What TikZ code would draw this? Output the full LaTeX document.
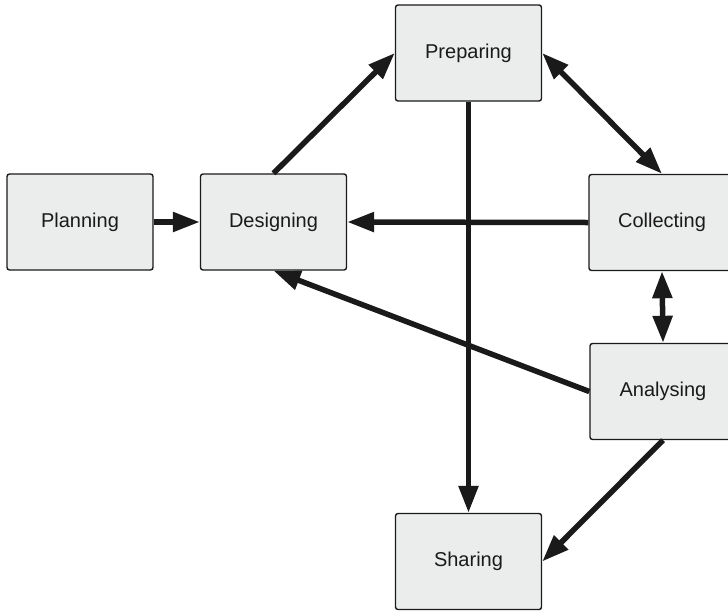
\documentclass[tikz,border=0pt]{standalone}
\usepackage{fontspec}
\setmainfont{Liberation Sans}
\usetikzlibrary{arrows.meta}
\definecolor{boxfill}{HTML}{EBECEC}
\definecolor{ink}{HTML}{1A1A1A}
\begin{document}
\begin{tikzpicture}[x=1pt,y=-1pt,
  stage/.style={draw=ink, line width=1.4pt, fill=boxfill, rounded corners=2.5pt,
    minimum width=146pt, minimum height=96pt, inner sep=0pt,
    font=\fontsize{20}{22}\selectfont, text=ink},
  flow/.style={draw=ink, line width=5.5pt,
    -{Triangle[length=27pt,width=19pt]}},
  flow2/.style={draw=ink, line width=5.5pt,
    {Triangle[length=27pt,width=19pt]}-{Triangle[length=27pt,width=19pt]}}]
\useasboundingbox (0,0) rectangle (728,611);

% process stages
\node[stage] (plan)  at (80,222)    {Planning};
\node[stage] (des)   at (273.5,222) {Designing};
\node[stage] (prep)  at (468.5,53)  {Preparing};
\node[stage] (coll)  at (662,222.5) {Collecting};
\node[stage] (ana)   at (663,391.5) {Analysing};
\node[stage] (share) at (468.5,561.5) {Sharing};

% connections between stages
\draw[flow] (coll.west) -- (des.east);
\draw[flow] (prep.south) -- (share.north);
\draw[flow] (ana.west) -- (des.south);
\draw[flow] (plan.east) -- (des.west);
\draw[flow] (des.north) -- (prep.west);
\draw[flow2] (prep.east) -- (coll.north);
\draw[flow2] (coll.south) -- (ana.north);
\draw[flow] (ana.south) -- (share.east);
\end{tikzpicture}
\end{document}
